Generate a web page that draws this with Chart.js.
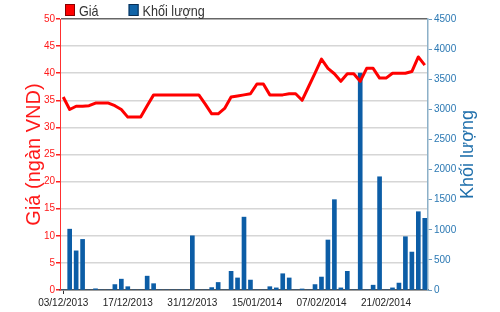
<!DOCTYPE html>
<html>
<head>
<meta charset="utf-8">
<script src="https://cdn.jsdelivr.net/npm/chart.js@4"></script>
<style>
  body { margin: 0; background: #fff; }
  canvas { display: block; }
</style>
</head>
<body>
<canvas id="myChart" width="500" height="312"></canvas>
<script>
// ngay giao dich
const dates = [
  '03/12/2013', '04/12/2013', '05/12/2013', '06/12/2013', '09/12/2013', '10/12/2013', '11/12/2013', '12/12/2013', '13/12/2013', '16/12/2013',
  '17/12/2013', '18/12/2013', '19/12/2013', '20/12/2013', '23/12/2013', '24/12/2013', '25/12/2013', '26/12/2013', '27/12/2013', '30/12/2013',
  '31/12/2013', '02/01/2014', '03/01/2014', '06/01/2014', '07/01/2014', '08/01/2014', '09/01/2014', '10/01/2014', '13/01/2014', '14/01/2014',
  '15/01/2014', '16/01/2014', '17/01/2014', '20/01/2014', '21/01/2014', '22/01/2014', '23/01/2014', '24/01/2014', '27/01/2014', '28/01/2014',
  '07/02/2014', '10/02/2014', '11/02/2014', '12/02/2014', '13/02/2014', '14/02/2014', '17/02/2014', '18/02/2014', '19/02/2014', '20/02/2014',
  '21/02/2014', '24/02/2014', '25/02/2014', '26/02/2014', '27/02/2014', '28/02/2014', '03/03/2014'
];

// gia (ngan VND)
const price = [
  35.6, 33.3, 33.9, 33.9, 34.0, 34.5, 34.5, 34.5, 34.0, 33.3,
  31.9, 31.9, 31.9, 34.0, 36.0, 36.0, 36.0, 36.0, 36.0, 36.0,
  36.0, 36.0, 34.3, 32.5, 32.5, 33.5, 35.6, 35.8, 36.0, 36.2,
  38.0, 38.0, 36.0, 36.0, 36.0, 36.2, 36.2, 35.0, 37.5, 40.0,
  42.6, 40.9, 39.9, 38.5, 39.9, 39.9, 38.5, 40.9, 40.9, 39.1,
  39.1, 40.0, 40.0, 40.0, 40.3, 43.0, 41.5
];

// khoi luong
const volume = [
  0, 1010, 650, 840, 0, 20, 0, 0, 90, 180,
  55, 0, 0, 230, 105, 0, 0, 0, 0, 0,
  900, 0, 0, 40, 125, 0, 310, 200, 1210, 165,
  0, 0, 55, 35, 270, 200, 0, 17, 0, 90,
  215, 830, 1500, 35, 310, 0, 3600, 0, 80, 1880,
  0, 35, 115, 885, 630, 1300, 1190
];

const priceTicks = { min: 0, max: 50, step: 5 };
const volumeTicks = { min: 0, max: 4500, step: 500 };

const sans = '"Liberation Sans", Arial, sans-serif';

// legend ve tay, can trai theo vung bieu do (chu hep lai cho giong ban goc)
const legendPlugin = {
  id: 'topLegend',
  afterDraw(chart) {
    const ctx = chart.ctx;
    let x = chart.chartArea.left + 5;
    ctx.save();
    ctx.font = '15px ' + sans;
    ctx.textBaseline = 'alphabetic';
    chart.data.datasets.forEach(ds => {
      ctx.fillStyle = ds.legendColor;
      ctx.fillRect(x, 4, 10, 12);
      ctx.strokeStyle = ds.legendEdge;
      ctx.lineWidth = 1;
      ctx.strokeRect(x + 0.5, 4.5, 9, 11);
      ctx.fillStyle = '#333';
      const w = ctx.measureText(ds.label).width * 0.84;
      ctx.save();
      ctx.translate(x + 14, 16);
      ctx.scale(0.84, 1);
      ctx.fillText(ds.label, 0, 0);
      ctx.restore();
      x += 14 + w + 30;
    });
    ctx.restore();
  }
};

// tieu de truc phai doc tu duoi len
const rightTitle = {
  id: 'rightTitle',
  afterDraw(chart) {
    const s = chart.scales.y1;
    const ctx = chart.ctx;
    ctx.save();
    ctx.translate(s.right - 32, (s.top + s.bottom) / 2);
    ctx.rotate(-Math.PI / 2);
    ctx.font = '18px ' + sans;
    ctx.fillStyle = '#1f6fab';
    ctx.textAlign = 'center';
    ctx.textBaseline = 'middle';
    ctx.fillText('Khối lượng', 0, 0);
    ctx.restore();
  }
};

const ctx = document.getElementById('myChart').getContext('2d');
const myChart = new Chart(ctx, {
  type: 'bar',
  data: {
    labels: dates,
    datasets: [{
      type: 'line',
      label: 'Giá',
      data: price,
      yAxisID: 'y',
      borderColor: '#ff0000',
      borderWidth: 3,
      borderJoinStyle: 'round',
      pointRadius: 0,
      tension: 0,
      fill: false,
      order: 0,
      legendColor: '#ff0000',
      legendEdge: '#8a0000'
    }, {
      type: 'bar',
      label: 'Khối lượng',
      data: volume,
      yAxisID: 'y1',
      backgroundColor: '#0c5da6',
      barThickness: 4,
      order: 1,
      legendColor: '#1064a8',
      legendEdge: '#0a2f55'
    }]
  },
  options: {
    responsive: false,
    animation: false,
    layout: { padding: { top: 19, left: 0, right: 0, bottom: 0 } },
    plugins: {
      legend: { display: false },
      tooltip: { enabled: false }
    },
    scales: {
      x: {
        offset: true,
        afterFit: s => { s.height = 22; },
        grid: {
          drawOnChartArea: false,
          offset: false,
          tickLength: 4,
          tickColor: c => (c.index % 10 === 0 ? '#333' : 'transparent'),
          lineWidth: 1
        },
        border: { color: '#555', width: 1.5 },
        ticks: {
          autoSkip: false,
          maxRotation: 0,
          padding: 3,
          color: '#222',
          font: { family: sans, size: 10 },
          callback: (v, i) => (i % 10 === 0 ? dates[i] : null)
        }
      },
      y: {
        position: 'left',
        min: priceTicks.min,
        max: priceTicks.max,
        afterFit: s => { s.width = 60; },
        grid: {
          color: c => (c.tick && c.tick.value === priceTicks.max ? '#666' : '#d6d6d6'),
          lineWidth: 1.5,
          tickColor: '#ff2020',
          tickLength: 4
        },
        border: { color: '#ff3030', width: 1 },
        ticks: {
          stepSize: priceTicks.step,
          padding: 1,
          color: '#ff1a1a',
          font: { family: sans, size: 10 }
        },
        title: {
          display: true,
          text: 'Giá (ngàn VND)',
          color: '#ff1a1a',
          font: { family: sans, size: 20 },
          padding: { top: 22, bottom: 0 }
        }
      },
      y1: {
        position: 'right',
        min: volumeTicks.min,
        max: volumeTicks.max,
        afterFit: s => { s.width = 72; },
        grid: {
          drawOnChartArea: false,
          tickColor: '#6d9cc0',
          tickLength: 4
        },
        border: { color: '#8cb0c8', width: 1.5 },
        ticks: {
          stepSize: volumeTicks.step,
          padding: 2,
          color: '#2a78b3',
          font: { family: sans, size: 10 },
          callback: v => String(v)
        }
      }
    }
  },
  plugins: [legendPlugin, rightTitle]
});
</script>
</body>
</html>
